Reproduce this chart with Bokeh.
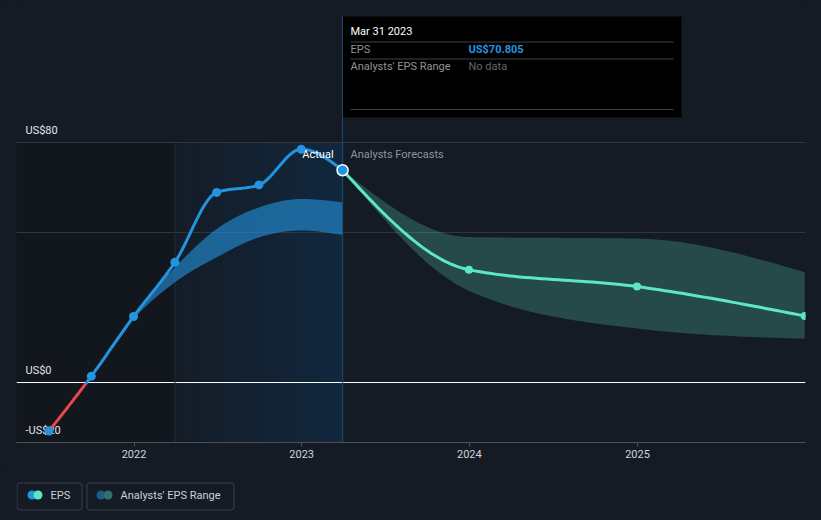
import numpy as np
import pandas as pd
from bokeh.plotting import figure
from bokeh.models import Range1d, FixedTicker, DatetimeTickFormatter, Span, Label
from bokeh.layouts import column
from bokeh.core.properties import value
from bokeh.embed import file_html
from bokeh.resources import INLINE

# ---------------- data ----------------
actual_dates = ["2021-06-30", "2021-09-30", "2021-12-31", "2022-03-31",
                "2022-06-30", "2022-09-30", "2022-12-31", "2023-03-31"]
actual_eps = [-16.2, 2.1, 22.0, 40.1, 63.4, 65.9, 77.8, 70.805]

past_range_dates = ["2021-09-30", "2021-12-31", "2022-03-31", "2022-06-30",
                    "2022-09-30", "2022-12-31", "2023-03-31"]
past_range_high = [2.1, 22.6, 38.4, 51.2, 58.4, 61.2, 60.1]
past_range_low = [2.1, 21.2, 33.4, 41.8, 48.4, 50.7, 49.2]

forecast_dates = ["2023-03-31", "2023-12-31", "2024-12-31", "2025-12-31"]
forecast_eps = [70.805, 37.6, 32.0, 22.2]
forecast_high = [70.805, 48.5, 48.0, 36.8]
forecast_low = [70.805, 30.6, 18.0, 14.6]

highlight_start = "2022-03-31"
tick_years = [2022, 2023, 2024, 2025]
ytick_values = [-20, 0, 80]
ytick_labels = ["-US$20", "US$0", "US$80"]
grid_values = [50, 80]

# ---------------- styling ----------------
BG = "#151b24"
BLUE = "#2394df"
MINT = "#5ee6c8"
RED = "#e5484d"
FONT = "Roboto"


def ms(d):
    return pd.Timestamp(d).value / 1e6


def tms(dates):
    return np.array([ms(d) for d in dates], dtype=float)


def smooth(xs, ys, steps=30):
    """Monotone cubic (d3 curveMonotoneX) rendering of a polyline."""
    xs = np.asarray(xs, float)
    ys = np.asarray(ys, float)
    n = len(xs)
    h = np.diff(xs)
    s = np.diff(ys) / h
    t = np.zeros(n)
    for i in range(1, n - 1):
        p_ = (s[i - 1] * h[i] + s[i] * h[i - 1]) / (h[i - 1] + h[i])
        t[i] = (np.sign(s[i - 1]) + np.sign(s[i])) * min(abs(s[i - 1]), abs(s[i]), 0.5 * abs(p_))
    if n > 2:
        t[0] = (3 * s[0] - t[1]) / 2
        t[-1] = (3 * s[-1] - t[-2]) / 2
    else:
        t[:] = s[0]
    ox, oy = [xs[0]], [ys[0]]
    u = np.linspace(0, 1, steps + 1)[1:]
    h00 = 2 * u**3 - 3 * u**2 + 1
    h10 = u**3 - 2 * u**2 + u
    h01 = -2 * u**3 + 3 * u**2
    h11 = u**3 - u**2
    for i in range(n - 1):
        ox.extend(xs[i] + u * h[i])
        oy.extend(h00 * ys[i] + h10 * h[i] * t[i] + h01 * ys[i + 1] + h11 * h[i] * t[i + 1])
    return np.array(ox), np.array(oy)


# ---------------- geometry (layout) ----------------
FRAME_L, FRAME_R, FRAME_H = 16, 805, 442
PX_2022 = 133.5
PX_PER_YEAR = 167.8
YEAR_MS = 365.25 * 86400000
t2022 = ms("2022-01-01")
x_start = t2022 - (PX_2022 - FRAME_L) / PX_PER_YEAR * YEAR_MS
x_end = t2022 + (FRAME_R - PX_2022) / PX_PER_YEAR * YEAR_MS
y_bot, y_top = -20.0, 127.4


def xpx(px):
    return x_start + (px - FRAME_L) / (FRAME_R - FRAME_L) * (x_end - x_start)


def ypx(py):
    return y_top - py / FRAME_H * (y_top - y_bot)


css_bg = {"background-color": BG}

p = figure(width=821, height=470, x_axis_type="datetime",
           x_range=Range1d(x_start, x_end), y_range=Range1d(y_bot, y_top),
           y_axis_location=None, output_backend="svg", toolbar_location=None,
           min_border_left=FRAME_L, min_border_right=821 - FRAME_R,
           min_border_top=0, min_border_bottom=28,
           background_fill_color=BG, border_fill_color=BG, outline_line_color=None,
           styles=css_bg)

# shaded regions
hs = ms(highlight_start)
t_last = ms(actual_dates[-1])
p.quad(left=[x_start], right=[hs], bottom=[y_bot], top=[80], fill_color="#12161d",
       line_color=None, level="image")
N = 48
edges = np.linspace(hs, t_last, N + 1)
c0 = np.array([20, 28, 39])
c1 = np.array([18, 40, 62])
cols = []
for i in range(N):
    f = (i + 0.5) / N
    c = (c0 + (c1 - c0) * f).round().astype(int)
    cols.append("#%02x%02x%02x" % tuple(c))
overlap = (edges[1] - edges[0]) * 0.3
p.quad(left=edges[:-1], right=edges[1:] + overlap, bottom=[y_bot] * N, top=[80] * N,
       fill_color=cols, line_color=None, level="image")

# grid
p.xgrid.visible = False
p.ygrid.ticker = FixedTicker(ticks=grid_values)
p.ygrid.grid_line_color = "#30363e"
p.ygrid.grid_line_width = 1
p.add_layout(Span(location=0, dimension="width", line_color="#ffffff", line_width=1,
                  level="underlay"))

# x axis
p.xaxis.ticker = FixedTicker(ticks=[ms(f"{y}-01-01") for y in tick_years])
p.xaxis.formatter = DatetimeTickFormatter(
    microseconds="%Y", milliseconds="%Y", seconds="%Y", minsec="%Y", minutes="%Y",
    hourmin="%Y", hours="%Y", days="%Y", months="%Y", years="%Y")
p.xaxis.axis_line_color = "#4b5058"
p.xaxis.major_tick_line_color = "#4b5058"
p.xaxis.major_tick_in = 0
p.xaxis.major_tick_out = 4
p.xaxis.minor_tick_line_color = None
p.xaxis.major_label_text_color = "#d0d3d8"
p.xaxis.major_label_text_font = FONT
p.xaxis.major_label_text_font_size = "11px"
p.xaxis.major_label_standoff = 3

# region borders
p.segment(x0=[hs], x1=[hs], y0=[y_bot], y1=[80], line_color="#1b2f43", line_width=1)

# y tick labels (inside plot)
p.text(x=[xpx(25)] * len(ytick_values), y=ytick_values, text=ytick_labels,
       y_offset=-12, text_baseline="middle", text_align="left",
       text_font=value(FONT), text_font_size="11px", text_color="#e2e5e9")

# bands
bx, bhi = smooth(tms(past_range_dates), past_range_high)
_, blo = smooth(tms(past_range_dates), past_range_low)
p.varea(x=bx, y1=blo, y2=bhi, fill_color=BLUE, fill_alpha=0.6)

fx, fhi = smooth(tms(forecast_dates), forecast_high)
_, flo = smooth(tms(forecast_dates), forecast_low)
p.varea(x=fx, y1=flo, y2=fhi, fill_color=MINT, fill_alpha=0.23)

# forecast line
lx, ly = smooth(tms(forecast_dates), forecast_eps)
p.line(lx, ly, line_color=MINT, line_width=3, line_join="round", line_cap="round")

# actual line, red below zero
ax, ay = smooth(tms(actual_dates), actual_eps)
k = int(np.argmax(ay >= 0))
fr = (0 - ay[k - 1]) / (ay[k] - ay[k - 1])
xc = ax[k - 1] + fr * (ax[k] - ax[k - 1])
p.line(list(ax[:k]) + [xc], list(ay[:k]) + [0.0], line_color=RED, line_width=3,
       line_join="round", line_cap="round")
p.line([xc] + list(ax[k:]), [0.0] + list(ay[k:]), line_color=BLUE, line_width=3,
       line_join="round", line_cap="round")

# hover line
p.segment(x0=[t_last], x1=[t_last], y0=[ypx(16)], y1=[y_bot], line_color="#1d4a70",
          line_width=1)

# markers
p.scatter(tms(actual_dates[:-1]), actual_eps[:-1], size=9, fill_color=BLUE, line_color=None)
p.scatter(tms(forecast_dates[1:]), forecast_eps[1:], size=8, fill_color=MINT, line_color=None)
p.scatter([t_last], [actual_eps[-1]], size=11, fill_color=BLUE, line_color="#ffffff",
          line_width=1.5)

# Actual / Analysts Forecasts labels
p.add_layout(Label(x=t_last, y=80, text="Actual", x_offset=-9, y_offset=-12,
                   text_align="right", text_baseline="middle", text_font=FONT,
                   text_font_size="11px", text_color="#ffffff"))
p.add_layout(Label(x=t_last, y=80, text="Analysts Forecasts", x_offset=8, y_offset=-12,
                   text_align="left", text_baseline="middle", text_font=FONT,
                   text_font_size="11px", text_color="#8e939a"))

# tooltip box
p.quad(left=[xpx(342.5)], right=[xpx(681)], top=[ypx(16)], bottom=[ypx(117)],
       fill_color="#000000", line_color=None)
p.segment(x0=[xpx(350)] * 3, x1=[xpx(673)] * 3, y0=[ypx(41.5), ypx(58.5), ypx(109)],
          y1=[ypx(41.5), ypx(58.5), ypx(109)], line_color="#3d4046", line_width=1)
date_txt = pd.Timestamp(actual_dates[-1]).strftime("%b %d %Y")
tips = [
    (350, 31, date_txt, "#ffffff", "normal"),
    (350, 49, "EPS", "#8f949a", "normal"),
    (468, 49, f"US${actual_eps[-1]:.3f}", BLUE, "bold"),
    (350, 66, "Analysts' EPS Range", "#8f949a", "normal"),
    (468, 66, "No data", "#62676e", "normal"),
]
for tx, ty, tt, tc, tst in tips:
    p.add_layout(Label(x=xpx(tx), y=ypx(ty), text=tt, text_align="left",
                       text_baseline="middle", text_font=FONT, text_font_size="11px",
                       text_color=tc, text_font_style=tst))

# ---------------- legend strip ----------------
lg = figure(width=821, height=50, x_range=Range1d(FRAME_L, FRAME_R), y_range=Range1d(50, 0),
            x_axis_location=None, y_axis_location=None, output_backend="svg",
            toolbar_location=None, min_border=0, min_border_left=FRAME_L,
            min_border_right=821 - FRAME_R, background_fill_color=BG,
            border_fill_color=BG, outline_line_color=None, styles=css_bg)
lg.xgrid.visible = False
lg.ygrid.visible = False
lg.quad(left=[16.5, 86.5], right=[81.5, 233.5], top=[12.5, 12.5], bottom=[39.5, 39.5],
        fill_color=None, line_color="#3b414a", line_width=1, border_radius=3)
lg.scatter([31.5, 100.5], [24.5, 24.5], size=9, fill_color=[BLUE, "#1f5b88"], line_color=None)
lg.scatter([37.5, 107.5], [24.5, 24.5], size=9, fill_color=[MINT, "#2f7371"], line_color=None)
lg.text(x=[50, 120], y=[25, 25], text=["EPS", "Analysts' EPS Range"], text_baseline="middle",
        text_font=value(FONT), text_font_size="11px", text_color="#cdd1d6")

layout = column(p, lg, spacing=0, styles=css_bg)
open("out.html", "w").write(file_html(layout, INLINE))
